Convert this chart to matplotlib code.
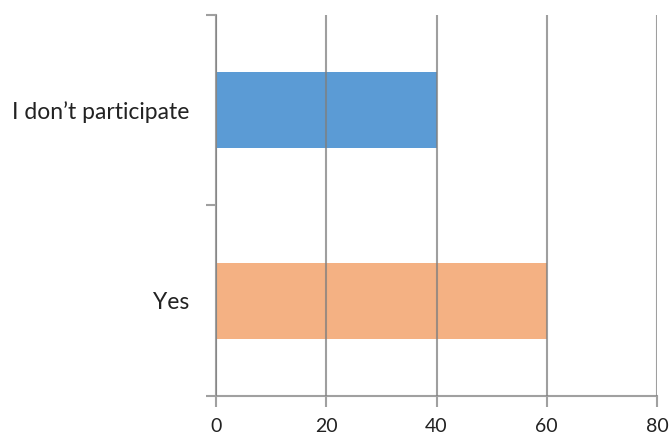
import matplotlib
matplotlib.use("Agg")
import matplotlib.pyplot as plt

categories = ["Yes", "I don\u2019t participate"]
values = [60, 40]
colors = ["#F4B183", "#5B9BD5"]
x_ticks = [0, 20, 40, 60, 80]

plt.rcParams["font.family"] = ["Lato", "DejaVu Sans"]

fig = plt.figure(figsize=(6.7, 4.38), dpi=100)
ax = fig.add_axes([0.3224, 0.0959, 0.6582, 0.8699])

pos = list(range(len(categories)))
ax.barh(pos, values, height=0.4, color=colors, zorder=1)

ax.set_xlim(0, 80)
ax.set_ylim(-0.5, len(categories) - 0.5)

ax.set_xticks(x_ticks)
ax.set_xticklabels([str(t) for t in x_ticks], fontsize=14, color="#222222")
ax.xaxis.grid(True, color="#7f7f7f", alpha=0.75, linewidth=1.5, zorder=2)
ax.set_axisbelow(False)

# category boundaries get tick marks, labels sit between them
ax.set_yticks([p - 0.5 for p in pos] + [pos[-1] + 0.5])
ax.set_yticklabels([])
ax.set_yticks(pos, minor=True)
ax.set_yticklabels(categories, minor=True, fontsize=16.5, color="#222222")
ax.tick_params(axis="y", which="minor", length=0, pad=19)
ax.tick_params(axis="y", which="major", length=7, width=1.5, color="#a0a0a0")
ax.tick_params(axis="x", length=8, width=1.5, color="#a0a0a0", pad=8)

for s in ["top", "right"]:
    ax.spines[s].set_visible(False)
for s in ["left", "bottom"]:
    ax.spines[s].set_color("#a0a0a0")
    ax.spines[s].set_linewidth(1.5)

fig.savefig("out.png", dpi=100)
